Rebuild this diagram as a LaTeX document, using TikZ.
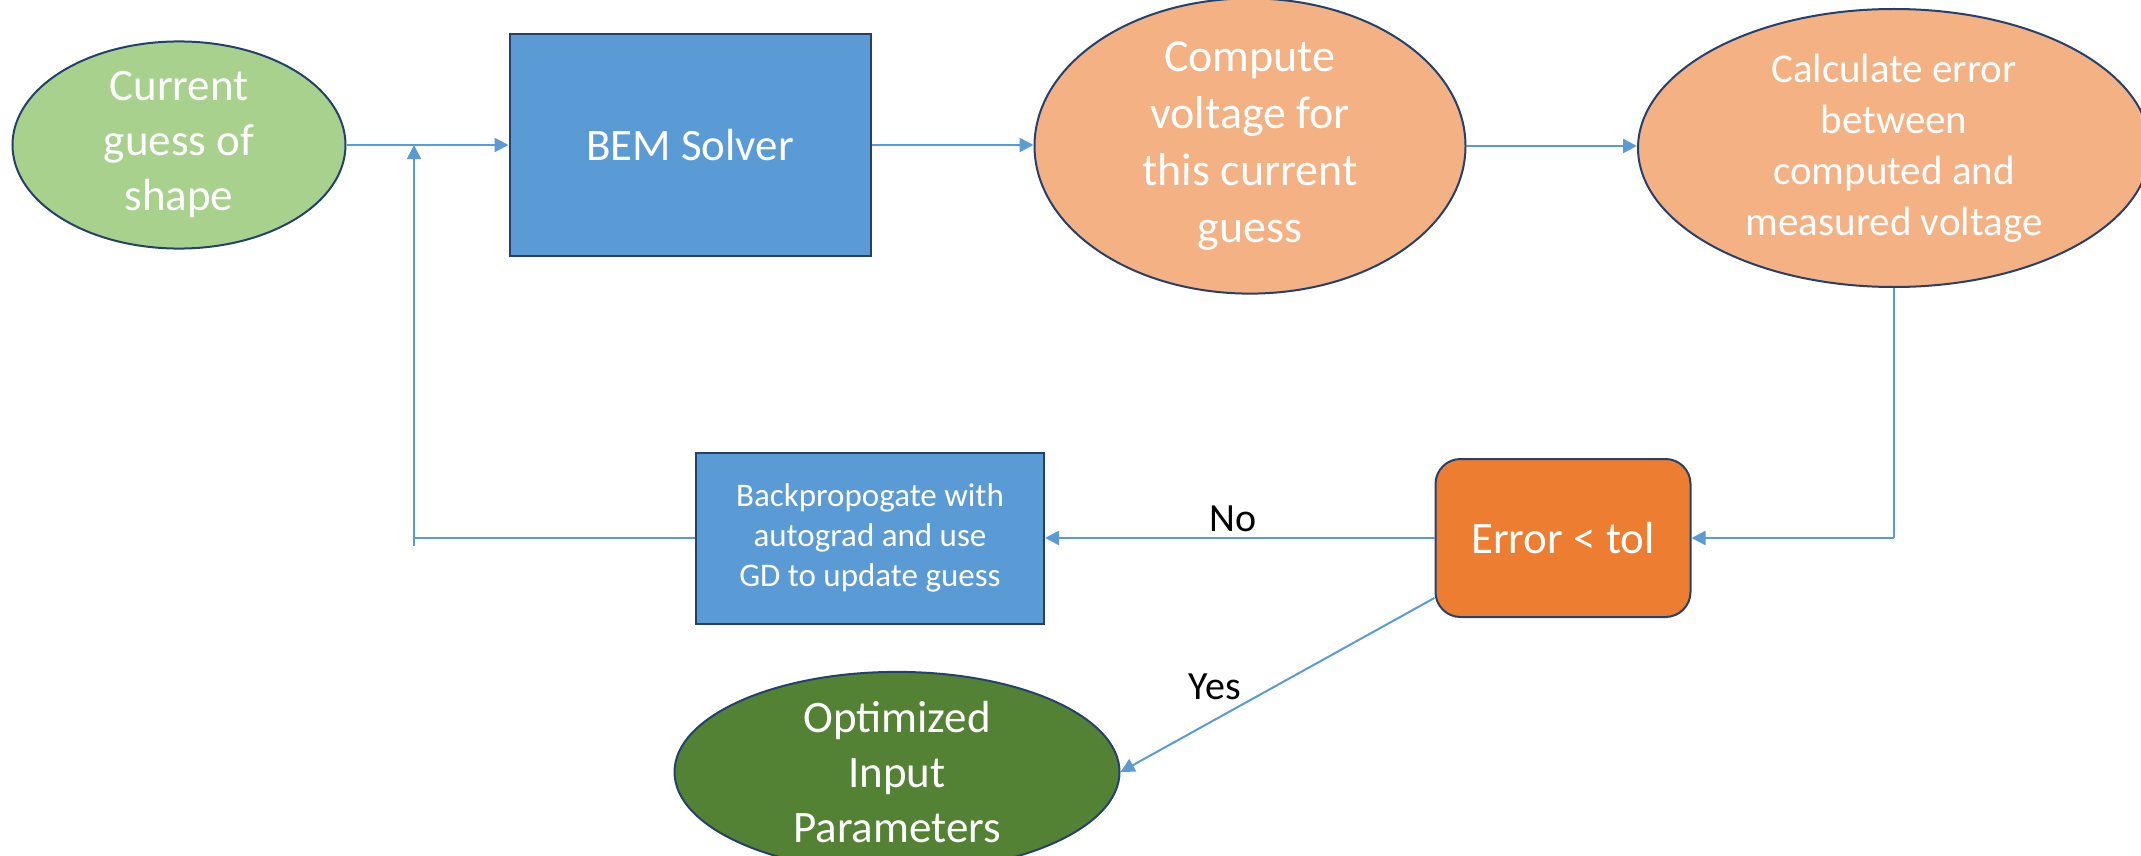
\documentclass[tikz,border=0pt]{standalone}
\usepackage{fontspec}
\setmainfont{Carlito}
\usetikzlibrary{shapes.geometric,arrows.meta,calc}
\definecolor{lgreen}{HTML}{A9D18E}
\definecolor{dgreen}{HTML}{548235}
\definecolor{bblue}{HTML}{5B9BD5}
\definecolor{lorange}{HTML}{F4B183}
\definecolor{dorange}{HTML}{ED7D31}
\definecolor{edgec}{HTML}{24406B}
\definecolor{arrowc}{HTML}{5B9BD5}
\newcommand{\fsz}[2]{\fontsize{#1}{#2}\selectfont}
\begin{document}
\begin{tikzpicture}[x=1pt,y=-1pt,
  shapeline/.style={draw=edgec, line width=2pt},
  ell/.style={ellipse, shapeline, inner sep=0pt, text=white, align=center},
  box/.style={rectangle, shapeline, inner sep=0pt, text=white, align=center},
  tip/.style={-{Triangle[length=14pt,width=14pt]}},
  flow/.style={draw=arrowc, line width=2.5pt, tip},
  thinline/.style={draw=arrowc, line width=1.5pt},
  lbl/.style={text=black, font=\fsz{40}{48}}
]
\useasboundingbox (0,0) rectangle (2141,856);

\node[ell, fill=lgreen, minimum width=333pt, minimum height=201pt, font=\fsz{45}{55}] (cur) at (179,145) {Current\\guess of\\shape};
\node[box, fill=bblue, minimum width=361pt, minimum height=221pt, font=\fsz{45}{55}] (bem) at (690,145) {BEM Solver};
\node[ell, fill=lorange, minimum width=431pt, minimum height=246pt, font=\fsz{46}{57}] (comp) at (1250,146) {Compute\\voltage for\\this current\\guess};
\node[ell, fill=lorange, minimum width=512pt, minimum height=278pt, font=\fsz{41}{51}] (calc) at (1894,148) {Calculate error\\between\\computed and\\measured voltage};
\node[box, fill=dorange, rounded corners=25pt, minimum width=255pt, minimum height=158pt, font=\fsz{45}{55}] (err) at (1563,538) {Error {\textless} tol};
\node[box, fill=bblue, minimum width=348pt, minimum height=171pt, font=\fsz{33}{40}] (bp) at (870,538) {Backpropogate with\\autograd and use\\GD to update guess};
\node[ell, fill=dgreen, minimum width=445pt, minimum height=176pt, font=\fsz{45}{55}] (opt) at (897,772) {Optimized\\Input\\Parameters};

\draw[flow] (cur.east) -- (bem.west);
\draw[flow] (bem.east) -- (bem.east -| comp.west);
\draw[flow] (comp.east) -- (comp.east -| calc.west);

\coordinate (c1) at (calc.south |- err.east);
\draw[thinline] (calc.south) -- (c1);
\draw[flow] (c1) -- (err.east);

\draw[flow] (err.west) -- (bp.east);
\node[lbl] (no) at (1233,519) {No};

\coordinate (c2) at (414,538);
\coordinate (c3) at (414,546);
\draw[thinline] (bp.west) -- (c2);
\draw[thinline, tip] (c3) -- (c3 |- cur.east);

\draw[flow, line width=2pt] (err.205) -- (opt.east);
\node[lbl] (yes) at (1215,687) {Yes};
\end{tikzpicture}
\end{document}
